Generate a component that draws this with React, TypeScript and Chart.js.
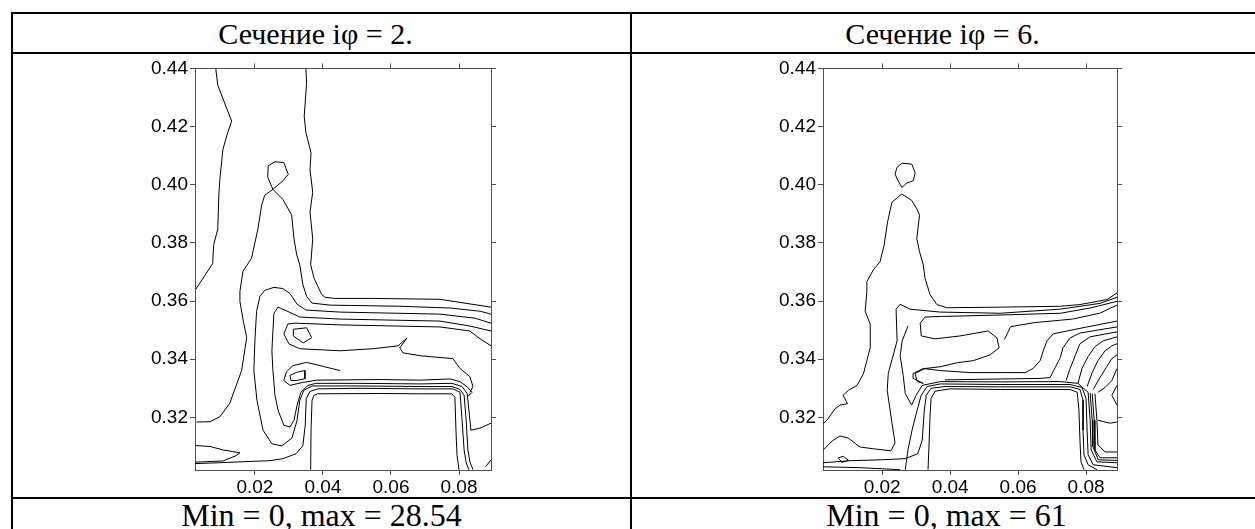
import React, { useEffect, useRef } from "react";
import { Chart, registerables } from "chart.js";

Chart.register(...registerables);

// ---------- axes ----------
const X_TICKS = [0.02, 0.04, 0.06, 0.08];
const Y_TICKS = [0.32, 0.34, 0.36, 0.38, 0.4, 0.42, 0.44];
const Y_MIN = 0.3019;
const Y_MAX = 0.44;
const LEFT_X_MIN = 0.0024;
const LEFT_X_MAX = 0.0894;
const RIGHT_X_MIN = 0.0026;
const RIGHT_X_MAX = 0.0891;

const TITLES = ["Сечение iφ = 2.", "Сечение iφ = 6."];
const FOOTERS = ["Min = 0, max = 28.54", "Min = 0, max = 61"];

type Pt = [number, number];

// ---------- section iφ = 2 : contour lines [x, y] ----------
const phi2_A: Pt[] = [[0.0085,0.4400],[0.0091,0.4342],[0.0126,0.4236],[0.0132,0.4219],[0.0120,0.4179],[0.0106,0.4121],[0.0097,0.4018],[0.0094,0.3964],[0.0091,0.3848],[0.0079,0.3794],[0.0076,0.3729],[0.0026,0.3640]];
const phi2_B: Pt[] = [[0.0350,0.4400],[0.0352,0.4349],[0.0345,0.4236],[0.0350,0.4179],[0.0365,0.4110],[0.0362,0.4052],[0.0370,0.3974],[0.0362,0.3906],[0.0370,0.3814],[0.0364,0.3725],[0.0374,0.3678],[0.0396,0.3623],[0.0406,0.3613],[0.0435,0.3609],[0.0547,0.3609],[0.0744,0.3606],[0.0894,0.3579]];
const phi2_C: Pt[] = [[0.0029,0.3184],[0.0068,0.3185],[0.0097,0.3202],[0.0126,0.3248],[0.0161,0.3361],[0.0176,0.3474],[0.0166,0.3531],[0.0156,0.3599],[0.0156,0.3633],[0.0165,0.3702],[0.0190,0.3747],[0.0209,0.3848],[0.0220,0.3930],[0.0229,0.3964],[0.0253,0.3984],[0.0238,0.4025],[0.0239,0.4065],[0.0259,0.4079],[0.0285,0.4076],[0.0298,0.4036],[0.0283,0.4014],[0.0253,0.3984],[0.0282,0.3950],[0.0308,0.3896],[0.0315,0.3814],[0.0323,0.3759],[0.0332,0.3725],[0.0341,0.3657],[0.0352,0.3616],[0.0368,0.3593],[0.0421,0.3586],[0.0626,0.3582],[0.0774,0.3576],[0.0862,0.3565],[0.0894,0.3555]];
const phi2_D: Pt[] = [[0.0894,0.3524],[0.0847,0.3541],[0.0744,0.3555],[0.0450,0.3562],[0.0350,0.3569],[0.0324,0.3589],[0.0303,0.3626],[0.0282,0.3643],[0.0256,0.3647],[0.0229,0.3637],[0.0215,0.3616],[0.0205,0.3565],[0.0200,0.3463],[0.0197,0.3361],[0.0206,0.3259],[0.0224,0.3156],[0.0250,0.3109],[0.0279,0.3102],[0.0309,0.3129],[0.0324,0.3190],[0.0332,0.3259],[0.0344,0.3293],[0.0368,0.3308],[0.0509,0.3308],[0.0685,0.3306],[0.0779,0.3306],[0.0803,0.3296],[0.0815,0.3276],[0.0821,0.3190],[0.0826,0.3088],[0.0832,0.3047],[0.0841,0.3020]];
const phi2_E: Pt[] = [[0.0894,0.3497],[0.0832,0.3514],[0.0744,0.3531],[0.0450,0.3538],[0.0332,0.3545],[0.0288,0.3569],[0.0268,0.3579],[0.0256,0.3558],[0.0253,0.3497],[0.0250,0.3429],[0.0253,0.3361],[0.0259,0.3276],[0.0268,0.3225],[0.0285,0.3173],[0.0303,0.3167],[0.0315,0.3190],[0.0324,0.3242],[0.0335,0.3286],[0.0356,0.3310],[0.0379,0.3317],[0.0509,0.3317],[0.0685,0.3315],[0.0779,0.3317],[0.0809,0.3306],[0.0824,0.3282],[0.0829,0.3225],[0.0835,0.3156],[0.0862,0.3163],[0.0894,0.3180]];
const phi2_F: Pt[] = [[0.0894,0.3446],[0.0862,0.3470],[0.0832,0.3497],[0.0744,0.3511],[0.0450,0.3518],[0.0318,0.3524],[0.0297,0.3521],[0.0285,0.3487],[0.0300,0.3453],[0.0332,0.3436],[0.0450,0.3429],[0.0547,0.3436],[0.0621,0.3446],[0.0647,0.3473],[0.0626,0.3439],[0.0635,0.3422],[0.0685,0.3412],[0.0782,0.3402],[0.0803,0.3368],[0.0832,0.3340],[0.0841,0.3306],[0.0832,0.3286]];
const phi2_H: Pt[] = [[0.0450,0.3361],[0.0391,0.3378],[0.0352,0.3389],[0.0312,0.3378],[0.0293,0.3357],[0.0285,0.3327],[0.0303,0.3310],[0.0341,0.3320],[0.0382,0.3328],[0.0568,0.3330],[0.0685,0.3328],[0.0774,0.3332],[0.0803,0.3323],[0.0826,0.3303],[0.0838,0.3286],[0.0826,0.3272]];
const phi2_loop1: Pt[] = [[0.0313,0.3503],[0.0352,0.3508],[0.0367,0.3474],[0.0342,0.3456],[0.0313,0.3480],[0.0313,0.3503]];
const phi2_loop2: Pt[] = [[0.0303,0.3344],[0.0323,0.3355],[0.0347,0.3361],[0.0347,0.3333],[0.0323,0.3327],[0.0306,0.3327],[0.0303,0.3344]];
const phi2_S1: Pt[] = [[0.0364,0.3020],[0.0365,0.3156],[0.0368,0.3259],[0.0374,0.3276],[0.0385,0.3281],[0.0568,0.3282],[0.0685,0.3281],[0.0779,0.3281],[0.0788,0.3269],[0.0791,0.3156],[0.0794,0.3071],[0.0800,0.3020]];
const phi2_S2: Pt[] = [[0.0024,0.3041],[0.0097,0.3044],[0.0156,0.3047],[0.0244,0.3051],[0.0282,0.3058],[0.0321,0.3075],[0.0341,0.3102],[0.0348,0.3173],[0.0351,0.3265],[0.0362,0.3289],[0.0385,0.3298],[0.0509,0.3300],[0.0685,0.3298],[0.0782,0.3298],[0.0803,0.3286],[0.0809,0.3190],[0.0815,0.3088],[0.0821,0.3044],[0.0829,0.3020]];
const phi2_blob: Pt[] = [[0.0026,0.3103],[0.0068,0.3100],[0.0106,0.3088],[0.0156,0.3078],[0.0144,0.3068],[0.0106,0.3050],[0.0026,0.3046]];
const phi2_corner: Pt[] = [[0.0878,0.3030],[0.0894,0.3054]];

// ---------- section iφ = 6 : contour lines [x, y] ----------
const phi6_C: Pt[] = [[0.0027,0.3179],[0.0037,0.3190],[0.0062,0.3230],[0.0076,0.3242],[0.0098,0.3247],[0.0085,0.3276],[0.0101,0.3293],[0.0126,0.3310],[0.0145,0.3350],[0.0165,0.3440],[0.0165,0.3520],[0.0150,0.3565],[0.0155,0.3633],[0.0155,0.3667],[0.0174,0.3707],[0.0194,0.3736],[0.0206,0.3793],[0.0216,0.3872],[0.0229,0.3940],[0.0258,0.3968],[0.0287,0.3946],[0.0302,0.3917],[0.0310,0.3895],[0.0302,0.3815],[0.0310,0.3770],[0.0321,0.3724],[0.0326,0.3679],[0.0341,0.3622],[0.0361,0.3588],[0.0390,0.3577],[0.0547,0.3579],[0.0724,0.3582],[0.0782,0.3588],[0.0862,0.3605],[0.0891,0.3628]];
const phi6_loop: Pt[] = [[0.0238,0.4037],[0.0244,0.4060],[0.0258,0.4074],[0.0287,0.4071],[0.0297,0.4042],[0.0292,0.4014],[0.0273,0.4006],[0.0258,0.3991],[0.0244,0.4020],[0.0238,0.4037]];
const phi6_D: Pt[] = [[0.0027,0.3088],[0.0053,0.3119],[0.0076,0.3136],[0.0100,0.3129],[0.0135,0.3098],[0.0174,0.3092],[0.0226,0.3085],[0.0238,0.3112],[0.0229,0.3180],[0.0215,0.3293],[0.0218,0.3351],[0.0244,0.3463],[0.0241,0.3572],[0.0253,0.3589],[0.0282,0.3572],[0.0371,0.3562],[0.0547,0.3558],[0.0724,0.3572],[0.0841,0.3592],[0.0891,0.3613]];
const phi6_J: Pt[] = [[0.0891,0.3599],[0.0812,0.3576],[0.0724,0.3558],[0.0547,0.3552],[0.0371,0.3547],[0.0326,0.3545],[0.0312,0.3524],[0.0315,0.3480],[0.0356,0.3470],[0.0429,0.3480],[0.0512,0.3497],[0.0538,0.3473],[0.0544,0.3439],[0.0518,0.3415],[0.0468,0.3395],[0.0421,0.3388],[0.0371,0.3374],[0.0326,0.3368],[0.0297,0.3351],[0.0303,0.3323],[0.0321,0.3317]];
const phi6_H3: Pt[] = [[0.0560,0.3468],[0.0578,0.3512],[0.0650,0.3526],[0.0760,0.3538],[0.0840,0.3558],[0.0891,0.3586]];
const phi6_P1: Pt[] = [[0.0335,0.3020],[0.0338,0.3105],[0.0341,0.3208],[0.0344,0.3265],[0.0356,0.3290],[0.0400,0.3298],[0.0547,0.3296],[0.0753,0.3296],[0.0774,0.3286],[0.0779,0.3225],[0.0782,0.3122],[0.0785,0.3047],[0.0794,0.3020]];
const phi6_P2: Pt[] = [[0.0026,0.3044],[0.0106,0.3051],[0.0194,0.3054],[0.0268,0.3058],[0.0305,0.3075],[0.0318,0.3122],[0.0324,0.3225],[0.0330,0.3276],[0.0344,0.3300],[0.0385,0.3306],[0.0547,0.3305],[0.0753,0.3305],[0.0782,0.3296],[0.0791,0.3259],[0.0791,0.3156],[0.0794,0.3071],[0.0806,0.3037],[0.0832,0.3020]];
const phi6_P3: Pt[] = [[0.0268,0.3020],[0.0276,0.3088],[0.0288,0.3156],[0.0303,0.3225],[0.0315,0.3276],[0.0332,0.3306],[0.0371,0.3315],[0.0547,0.3313],[0.0753,0.3313],[0.0788,0.3303],[0.0800,0.3265],[0.0803,0.3156],[0.0806,0.3071],[0.0821,0.3037],[0.0891,0.3027]];
const phi6_P4: Pt[] = [[0.0276,0.3514],[0.0259,0.3463],[0.0253,0.3412],[0.0262,0.3344],[0.0268,0.3282],[0.0287,0.3242],[0.0300,0.3276],[0.0318,0.3310],[0.0371,0.3323],[0.0547,0.3322],[0.0724,0.3323],[0.0776,0.3317],[0.0806,0.3286],[0.0812,0.3190],[0.0815,0.3088],[0.0832,0.3047],[0.0891,0.3044]];
const phi6_P5: Pt[] = [[0.0321,0.3317],[0.0291,0.3334],[0.0291,0.3351],[0.0321,0.3368],[0.0371,0.3361],[0.0459,0.3354],[0.0547,0.3354],[0.0621,0.3354],[0.0644,0.3368],[0.0665,0.3395],[0.0674,0.3429],[0.0685,0.3463],[0.0703,0.3487],[0.0744,0.3497],[0.0803,0.3511],[0.0891,0.3531]];
const phi6_P6: Pt[] = [[0.0385,0.3329],[0.0547,0.3332],[0.0665,0.3334],[0.0694,0.3337],[0.0709,0.3371],[0.0724,0.3405],[0.0732,0.3439],[0.0753,0.3473],[0.0782,0.3490],[0.0891,0.3511]];
const phi6_fan3: Pt[] = [[0.0741,0.3327],[0.0753,0.3368],[0.0768,0.3412],[0.0782,0.3453],[0.0812,0.3477],[0.0891,0.3494]];
const phi6_fan4: Pt[] = [[0.0776,0.3317],[0.0788,0.3368],[0.0806,0.3409],[0.0826,0.3443],[0.0850,0.3463],[0.0891,0.3477]];
const phi6_fan5: Pt[] = [[0.0803,0.3306],[0.0818,0.3354],[0.0835,0.3395],[0.0856,0.3429],[0.0876,0.3446],[0.0891,0.3453]];
const phi6_fan6: Pt[] = [[0.0821,0.3296],[0.0841,0.3337],[0.0859,0.3371],[0.0876,0.3402],[0.0891,0.3415]];
const phi6_fan7: Pt[] = [[0.0835,0.3286],[0.0856,0.3303],[0.0876,0.3327],[0.0891,0.3368]];
const phi6_V4: Pt[] = [[0.0812,0.3284],[0.0818,0.3190],[0.0820,0.3100],[0.0836,0.3054],[0.0891,0.3052]];
const phi6_V5: Pt[] = [[0.0818,0.3282],[0.0824,0.3190],[0.0826,0.3088],[0.0841,0.3061],[0.0891,0.3061]];
const phi6_V6: Pt[] = [[0.0826,0.3282],[0.0832,0.3190],[0.0835,0.3105],[0.0856,0.3081],[0.0891,0.3081]];
const phi6_R1: Pt[] = [[0.0835,0.3190],[0.0871,0.3180],[0.0891,0.3184]];
const phi6_R2: Pt[] = [[0.0891,0.3310],[0.0876,0.3276],[0.0891,0.3242]];
const phi6_blob: Pt[] = [[0.0071,0.3061],[0.0086,0.3066],[0.0101,0.3052],[0.0081,0.3045],[0.0071,0.3061]];
const phi6_bottom: Pt[] = [[0.0026,0.3030],[0.0135,0.3027],[0.0253,0.3020]];

const PHI2_LINES: Pt[][] = [phi2_A, phi2_B, phi2_C, phi2_D, phi2_E, phi2_F, phi2_H, phi2_loop1, phi2_loop2, phi2_S1, phi2_S2, phi2_blob, phi2_corner];
const PHI6_LINES: Pt[][] = [phi6_C, phi6_loop, phi6_D, phi6_J, phi6_H3, phi6_P1, phi6_P2, phi6_P3, phi6_P4, phi6_P5, phi6_P6, phi6_fan3, phi6_fan4, phi6_fan5, phi6_fan6, phi6_fan7, phi6_V4, phi6_V5, phi6_V6, phi6_R1, phi6_R2, phi6_blob, phi6_bottom];

const AXIS_COLOR = "#505050";
const TICK_FONT = { family: '"Liberation Sans", Arial, sans-serif', size: 19 };

function fixedTicks(values: number[]) {
  return (scale: any) => {
    scale.ticks = values.map((v) => ({ value: v }));
  };
}

function makeScales(xMin: number, xMax: number) {
  const grid = { drawOnChartArea: false, drawTicks: true, tickLength: 5, color: AXIS_COLOR, lineWidth: 1 };
  const border = { display: true, color: AXIS_COLOR, width: 1 };
  return {
    x: {
      type: "linear", axis: "x", position: "bottom", min: xMin, max: xMax,
      afterBuildTicks: fixedTicks(X_TICKS),
      afterFit: (s: any) => { s.height = 27; },
      ticks: { color: "#000", font: TICK_FONT, padding: 1, maxRotation: 0, autoSkip: false, callback: (v: any) => Number(v).toFixed(2) },
      grid, border,
    },
    x2: {
      type: "linear", axis: "x", position: "top", min: xMin, max: xMax,
      afterBuildTicks: fixedTicks(X_TICKS),
      afterFit: (s: any) => { s.height = 10; },
      ticks: { display: false },
      grid, border,
    },
    y: {
      type: "linear", axis: "y", position: "left", min: Y_MIN, max: Y_MAX,
      afterBuildTicks: fixedTicks(Y_TICKS),
      afterFit: (s: any) => { s.width = 65; },
      ticks: { color: "#000", font: TICK_FONT, padding: 2, autoSkip: false, callback: (v: any) => Number(v).toFixed(2) },
      grid, border,
    },
    y2: {
      type: "linear", axis: "y", position: "right", min: Y_MIN, max: Y_MAX,
      afterBuildTicks: fixedTicks(Y_TICKS),
      afterFit: (s: any) => { s.width = 14; },
      ticks: { display: false },
      grid, border,
    },
  };
}

function ContourPanel(props: { lines: Pt[][]; xMin: number; xMax: number; left: number; top: number; width: number; height: number }) {
  const ref = useRef<HTMLCanvasElement | null>(null);
  useEffect(() => {
    const canvas = ref.current;
    if (!canvas) return;
    const chart = new Chart(canvas, {
      type: "scatter",
      data: {
        datasets: props.lines.map((pts) => ({
          data: pts.map(([x, y]) => ({ x, y })),
          showLine: true,
          borderColor: "#000",
          borderWidth: 1,
          pointRadius: 0,
          pointHoverRadius: 0,
          fill: false,
          tension: 0,
          xAxisID: "x",
          yAxisID: "y",
        })),
      },
      options: {
        animation: false,
        responsive: false,
        maintainAspectRatio: false,
        devicePixelRatio: 1,
        layout: { padding: 0 },
        plugins: { legend: { display: false }, tooltip: { enabled: false }, title: { display: false } },
        events: [],
        scales: makeScales(props.xMin, props.xMax) as any,
      },
    });
    return () => chart.destroy();
  }, []);
  return (
    <canvas
      ref={ref}
      width={props.width}
      height={props.height}
      style={{ position: "absolute", left: props.left, top: props.top, width: props.width, height: props.height }}
    />
  );
}

const textStyle: React.CSSProperties = {
  position: "absolute",
  fontFamily: '"Liberation Serif", "Times New Roman", serif',
  fontSize: 30,
  lineHeight: "30px",
  color: "#000",
  textAlign: "center",
  whiteSpace: "nowrap",
};

export default function App() {
  const line = (l: number, t: number, w: number, h: number) => (
    <div style={{ position: "absolute", left: l, top: t, width: w, height: h, background: "#000" }} />
  );
  return (
    <div style={{ position: "absolute", left: 0, top: 0, width: 1255, height: 529, background: "#fff", overflow: "hidden" }}>
      {line(11, 12, 1244, 2)}
      {line(11, 52, 1244, 2)}
      {line(11, 497, 1244, 2)}
      {line(11, 12, 2, 517)}
      {line(630, 12, 2, 517)}
      <div style={{ ...textStyle, left: 7, width: 617, top: 19 }}>{TITLES[0]}</div>
      <div style={{ ...textStyle, left: 632, width: 621, top: 19 }}>{TITLES[1]}</div>
      <div style={{ ...textStyle, fontSize: 32, lineHeight: "32px", left: 13, width: 617, top: 499 }}>{FOOTERS[0]}</div>
      <div style={{ ...textStyle, fontSize: 32, lineHeight: "32px", left: 636, width: 621, top: 499 }}>{FOOTERS[1]}</div>
      <ContourPanel lines={PHI2_LINES} xMin={LEFT_X_MIN} xMax={LEFT_X_MAX} left={130} top={55} width={375} height={442} />
      <ContourPanel lines={PHI6_LINES} xMin={RIGHT_X_MIN} xMax={RIGHT_X_MAX} left={758} top={55} width={373} height={442} />
    </div>
  );
}
